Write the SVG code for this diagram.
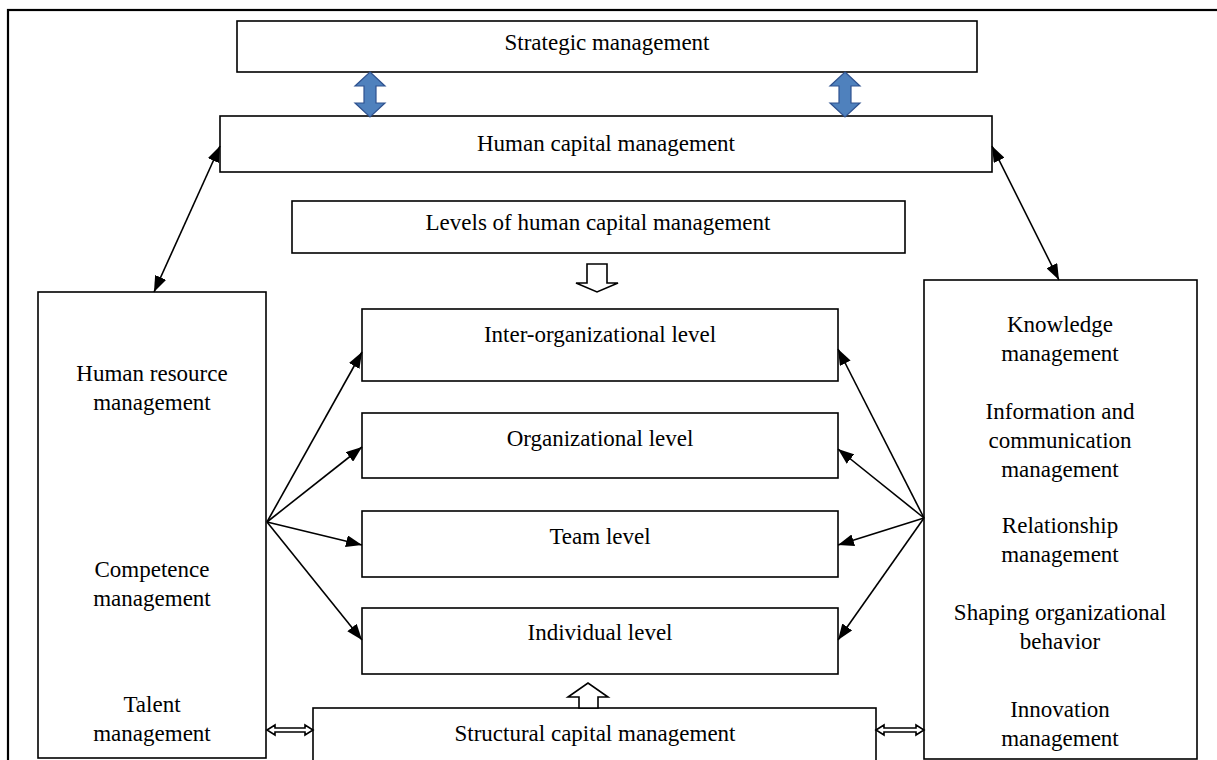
<svg xmlns="http://www.w3.org/2000/svg" width="1217" height="760" viewBox="0 0 1217 760">
<style>
.box{fill:#fff;stroke:#000;stroke-width:1.6}
.t{font-family:"Liberation Serif","Times New Roman",serif;font-size:23px;fill:#000;text-anchor:middle}
.c{stroke:#000;stroke-width:1.6;fill:none}
.blue{fill:#4F81BD;stroke:#2F528F;stroke-width:1.2}
.hol{fill:#fff;stroke:#000;stroke-width:1.6}
</style>
<defs>
<marker id="ah" viewBox="0 0 16 12" refX="16" refY="6" markerWidth="16" markerHeight="12" markerUnits="userSpaceOnUse" orient="auto-start-reverse">
<path d="M0,0 L16,6 L0,12 Z" fill="#000"/>
</marker>
</defs>
<rect x="8" y="10" width="1220" height="760" fill="#fff" stroke="#000" stroke-width="2.2"/>

<g id="strategic"><rect class="box" x="237" y="21" width="740" height="51"/><text class="t" x="607" y="50">Strategic management</text></g>
<g id="human-capital"><rect class="box" x="220" y="116" width="772" height="56"/><text class="t" x="606" y="151">Human capital management</text></g>
<g id="levels"><rect class="box" x="292" y="201" width="613" height="52"/><text class="t" x="598" y="230">Levels of human capital management</text></g>
<g id="inter-org"><rect class="box" x="362" y="309" width="476" height="72"/><text class="t" x="600" y="342">Inter-organizational level</text></g>
<g id="org"><rect class="box" x="362" y="413" width="476" height="65"/><text class="t" x="600" y="446">Organizational level</text></g>
<g id="team"><rect class="box" x="362" y="511" width="476" height="66"/><text class="t" x="600" y="544">Team level</text></g>
<g id="individual"><rect class="box" x="362" y="608" width="476" height="66"/><text class="t" x="600" y="640">Individual level</text></g>
<g id="structural"><rect class="box" x="313" y="708" width="563" height="60"/><text class="t" x="595" y="741">Structural capital management</text></g>
<g id="left-box"><rect class="box" x="38" y="292" width="228" height="466"/>
<text class="t" x="152" y="381">Human resource</text><text class="t" x="152" y="410">management</text>
<text class="t" x="152" y="577">Competence</text><text class="t" x="152" y="606">management</text>
<text class="t" x="152" y="712">Talent</text><text class="t" x="152" y="741">management</text></g>
<g id="right-box"><rect class="box" x="924" y="280" width="273" height="479"/>
<text class="t" x="1060" y="332">Knowledge</text><text class="t" x="1060" y="361">management</text>
<text class="t" x="1060" y="419">Information and</text><text class="t" x="1060" y="448">communication</text><text class="t" x="1060" y="477">management</text>
<text class="t" x="1060" y="533">Relationship</text><text class="t" x="1060" y="562">management</text>
<text class="t" x="1060" y="620">Shaping organizational</text><text class="t" x="1060" y="649">behavior</text>
<text class="t" x="1060" y="717">Innovation</text><text class="t" x="1060" y="746">management</text></g>

<g id="connectors">
<path class="blue" d="M370,72 L385,86 L376,86 L376,103 L385,103 L370,117 L355,103 L364,103 L364,86 L355,86 Z"/>
<path class="blue" d="M845,72 L860,86 L851,86 L851,103 L860,103 L845,117 L830,103 L839,103 L839,86 L830,86 Z"/>
<line class="c" x1="154" y1="292" x2="220" y2="146" marker-start="url(#ah)" marker-end="url(#ah)"/>
<line class="c" x1="1059" y1="280" x2="992" y2="146" marker-start="url(#ah)" marker-end="url(#ah)"/>
<path class="hol" d="M587,264 L607,264 L607,283 L618,283 L597,292 L576,283 L587,283 Z"/>
<path class="hol" d="M579,708 L598,708 L598,697 L608,697 L588,683 L568,697 L579,697 Z"/>
<line class="c" x1="267" y1="522" x2="362" y2="352" marker-end="url(#ah)"/>
<line class="c" x1="267" y1="522" x2="362" y2="447" marker-end="url(#ah)"/>
<line class="c" x1="267" y1="522" x2="362" y2="545" marker-end="url(#ah)"/>
<line class="c" x1="267" y1="522" x2="362" y2="640" marker-end="url(#ah)"/>
<line class="c" x1="924" y1="518" x2="838" y2="349" marker-end="url(#ah)"/>
<line class="c" x1="924" y1="518" x2="838" y2="449" marker-end="url(#ah)"/>
<line class="c" x1="924" y1="518" x2="838" y2="545" marker-end="url(#ah)"/>
<line class="c" x1="924" y1="518" x2="838" y2="640" marker-end="url(#ah)"/>
<path class="hol" d="M267,730 L275,725 L275,728 L305,728 L305,725 L313,730 L305,735 L305,732 L275,732 L275,735 Z"/>
<path class="hol" d="M876,730 L884,725 L884,728 L916,728 L916,725 L924,730 L916,735 L916,732 L884,732 L884,735 Z"/>
</g>
</svg>
